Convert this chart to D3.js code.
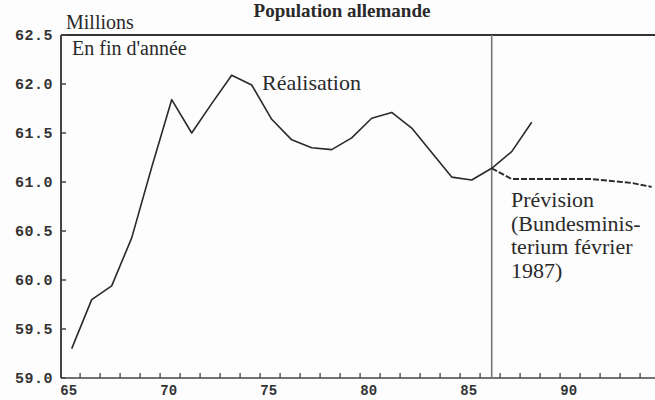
<!DOCTYPE html>
<html>
<head>
<meta charset="utf-8">
<script src="https://cdn.jsdelivr.net/npm/d3@7"></script>
<style>
  body { margin: 0; background: #fdfdfd; }
  svg { display: block; }
  .serif { font-family: "Liberation Serif", "DejaVu Serif", serif; fill: #2a2a2a; }
  .mono { font-family: "Liberation Mono", "DejaVu Sans Mono", monospace; font-weight: bold; fill: #333; }
</style>
</head>
<body>
<div id="canvas"></div>
<script>

// end of year population, millions
var years    = [65, 66, 67, 68, 69, 70, 71, 72, 73, 74, 75, 76, 77, 78, 79, 80, 81, 82, 83, 84, 85, 86, 87, 88];
var actual   = [59.30, 59.80, 59.94, 60.43, 61.15, 61.84, 61.50, 61.80, 62.09, 61.99, 61.64, 61.43, 61.35, 61.33,
                61.45, 61.65, 61.71, 61.55, 61.30, 61.05, 61.02, 61.14, 61.31, 61.61];
var fcYears  = [86, 87, 88, 89, 90, 91, 92, 93, 94];
var forecast = [61.14, 61.03, 61.03, 61.03, 61.03, 61.03, 61.01, 60.99, 60.95];

var yTicks   = [59.0, 59.5, 60.0, 60.5, 61.0, 61.5, 62.0, 62.5];
var xLabels  = [65, 70, 75, 80, 85, 90];
var xTicks   = d3.range(65, 94);
var splitYear = 86;

var width = 655;
var height = 400;

var svgContainer = d3.select("#canvas").append("svg")
                     .attr("width", width)
                     .attr("height", height);

var x = d3.scaleLinear().domain([64.465, 94.165]).range([61, 655]);
var y = d3.scaleLinear().domain([59, 62.5]).range([378, 35]);

// title
svgContainer.append("text")
            .attr("class", "serif")
            .attr("x", 342).attr("y", 17)
            .attr("text-anchor", "middle")
            .style("font-size", "19px").style("font-weight", "bold")
            .text("Population allemande");

// frame: top line, left axis, bottom axis
svgContainer.append("line")
            .attr("x1", x.range()[0]).attr("x2", x.range()[1])
            .attr("y1", y(62.5)).attr("y2", y(62.5))
            .attr("stroke", "#333").attr("stroke-width", 2);
svgContainer.append("line")
            .attr("x1", x.range()[0]).attr("x2", x.range()[0])
            .attr("y1", y(62.5)).attr("y2", y(59))
            .attr("stroke", "#444").attr("stroke-width", 2);
svgContainer.append("line")
            .attr("x1", x.range()[0]).attr("x2", x.range()[1])
            .attr("y1", y(59)).attr("y2", y(59))
            .attr("stroke", "#444").attr("stroke-width", 1.6);

// y ticks + labels
svgContainer.selectAll(".ytick").data(yTicks).enter().append("line")
            .attr("x1", 61).attr("x2", 66)
            .attr("y1", function(d){ return y(d); }).attr("y2", function(d){ return y(d); })
            .attr("stroke", "#444").attr("stroke-width", 1.5);
svgContainer.selectAll(".ylab").data(yTicks).enter().append("text")
            .attr("class", "mono")
            .attr("x", 53).attr("y", function(d){ return y(d) + 5; })
            .attr("text-anchor", "end")
            .style("font-size", "15px").style("letter-spacing", "0.5px")
            .text(function(d){ return d.toFixed(1); });

// x ticks (sit a little right of the year points on the scan)
svgContainer.selectAll(".xtick").data(xTicks).enter().append("line")
            .attr("x1", function(d){ return x(d + 0.42); }).attr("x2", function(d){ return x(d + 0.42); })
            .attr("y1", y(59)).attr("y2", y(59) - 5)
            .attr("stroke", "#444").attr("stroke-width", 1.3);
svgContainer.selectAll(".xlab").data(xLabels).enter().append("text")
            .attr("class", "mono")
            .attr("x", function(d){ return x(d) - 3; }).attr("y", 395)
            .attr("text-anchor", "middle")
            .style("font-size", "14px")
            .text(function(d){ return d; });

// split line between actual and forecast
svgContainer.append("line")
            .attr("x1", x(splitYear)).attr("x2", x(splitYear))
            .attr("y1", y(62.5)).attr("y2", y(59))
            .attr("stroke", "#777").attr("stroke-width", 1.6);

var line = d3.line()
             .x(function(d){ return x(d[0]); })
             .y(function(d){ return y(d[1]); });

svgContainer.append("path")
            .datum(d3.zip(years, actual))
            .attr("d", line)
            .attr("fill", "none").attr("stroke", "#2a2a2a").attr("stroke-width", 1.6)
            .attr("stroke-linejoin", "round");

svgContainer.append("path")
            .datum(d3.zip(fcYears, forecast))
            .attr("d", line)
            .attr("fill", "none").attr("stroke", "#2a2a2a").attr("stroke-width", 1.9)
            .attr("stroke-dasharray", "6,2");

// annotations
svgContainer.append("text").attr("class", "serif")
            .attr("x", 66).attr("y", 29).style("font-size", "20px")
            .text("Millions");
svgContainer.append("text").attr("class", "serif")
            .attr("x", 72).attr("y", 55).style("font-size", "20px")
            .text("En fin d'année");
svgContainer.append("text").attr("class", "serif")
            .attr("x", 262).attr("y", 90).style("font-size", "22px")
            .text("Réalisation");

var prev = ["Prévision", "(Bundesminis-", "terium février", "1987)"];
svgContainer.append("text").attr("class", "serif")
            .attr("x", 511).attr("y", 207).style("font-size", "22px")
            .selectAll("tspan").data(prev).enter().append("tspan")
            .attr("x", 511)
            .attr("dy", function(d, i){ return i == 0 ? 0 : 23.6; })
            .text(function(d){ return d; });

</script>
</body>
</html>
